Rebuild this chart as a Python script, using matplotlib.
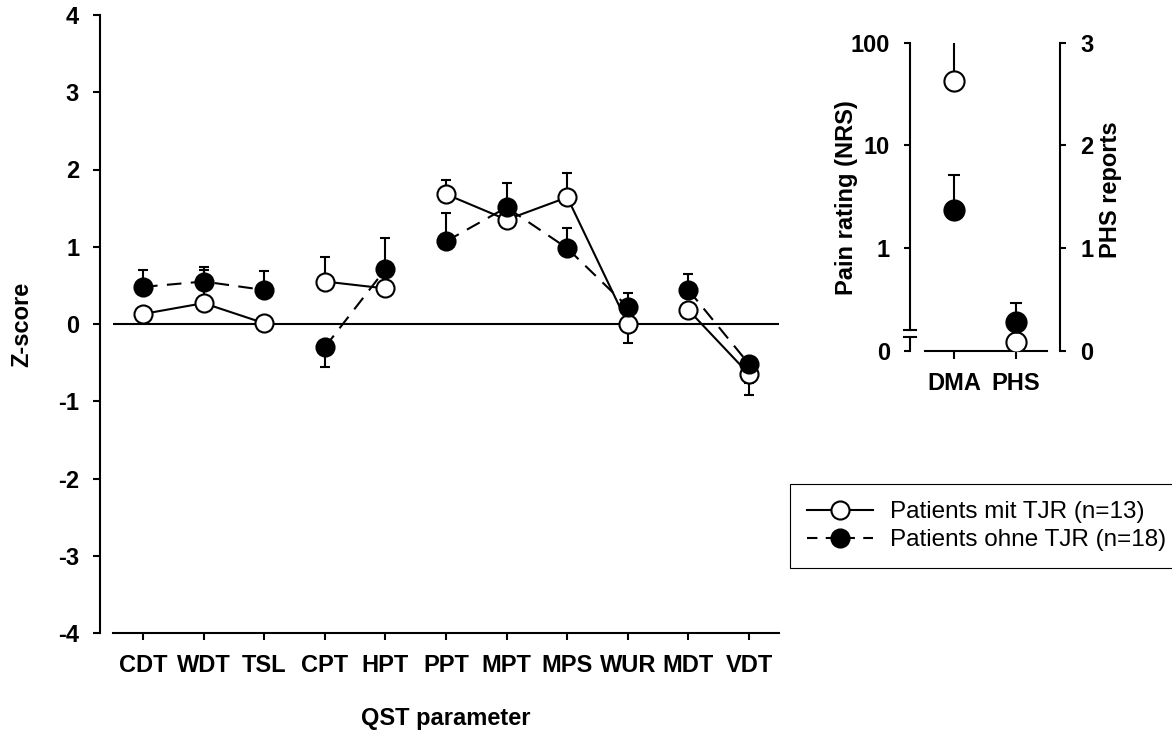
import matplotlib
matplotlib.use('Agg')
import matplotlib.pyplot as plt
import numpy as np
from matplotlib.lines import Line2D

plt.rcParams['font.family'] = ['Liberation Sans', 'DejaVu Sans']
plt.rcParams['font.weight'] = 'bold'
plt.rcParams['axes.unicode_minus'] = False

# QST z-scores
params = ['CDT', 'WDT', 'TSL', 'CPT', 'HPT', 'PPT', 'MPT', 'MPS', 'WUR', 'MDT', 'VDT']
# groups of parameters joined by a line
segments = [[0, 1, 2], [3, 4], [5, 6, 7, 8], [9, 10]]

tjr_mean = [0.13, 0.27, 0.01, 0.55, 0.46, 1.68, 1.35, 1.64, 0.00, 0.18, -0.65]
tjr_err_up = [0.0, 0.43, 0.0, 0.32, 0.0, 0.18, 0.0, 0.31, 0.0, 0.0, 0.0]
tjr_err_down = [0.0, 0.0, 0.0, 0.0, 0.0, 0.0, 0.0, 0.0, 0.25, 0.0, 0.27]

ohne_mean = [0.48, 0.55, 0.44, -0.30, 0.71, 1.07, 1.51, 0.98, 0.22, 0.44, -0.52]
ohne_err_up = [0.22, 0.19, 0.25, 0.0, 0.40, 0.37, 0.32, 0.26, 0.18, 0.21, 0.0]
ohne_err_down = [0.0, 0.0, 0.0, 0.26, 0.0, 0.0, 0.0, 0.0, 0.0, 0.0, 0.24]

# inset: DMA pain rating (NRS, log axis) and PHS reports (right axis)
inset_cats = ['DMA', 'PHS']
dma_tjr, dma_tjr_top = 42.7, 130.0
dma_ohne, dma_ohne_top = 2.38, 5.2
phs_tjr = 0.09
phs_ohne, phs_ohne_top = 0.285, 0.47

labels = ['Patients mit TJR (n=13)', 'Patients ohne TJR (n=18)']

W, H = 1172, 733
FS = 17
fig = plt.figure(figsize=(W / 100, H / 100), dpi=100)

open_style = dict(marker='o', ms=13, mfc='white', mec='black', mew=1.5)
fill_style = dict(marker='o', ms=13, mfc='black', mec='black', mew=1.5)
dash = (0, (7, 4.5))

# ---- main panel
ax = fig.add_axes([100 / W, 1 - 633 / H, 680 / W, 618 / H])
x = np.arange(len(params))
tjr_mean = np.array(tjr_mean)
ohne_mean = np.array(ohne_mean)

ax.hlines(0, -0.495, 10.5, color='black', lw=1.5, zorder=1)

ax.errorbar(x, tjr_mean, yerr=[tjr_err_down, tjr_err_up], fmt='none', ecolor='black',
            elinewidth=1.5, capsize=3.6, capthick=1.5, zorder=2)
ax.errorbar(x, ohne_mean, yerr=[ohne_err_down, ohne_err_up], fmt='none', ecolor='black',
            elinewidth=1.5, capsize=3.6, capthick=1.5, zorder=2)

for seg in segments:
    ax.plot(x[seg], tjr_mean[seg], color='black', lw=1.5, zorder=3)
    ax.plot(x[seg], ohne_mean[seg], color='black', lw=1.5, linestyle=dash, zorder=3)

ax.plot(x, tjr_mean, linestyle='none', zorder=4, **open_style)
ax.plot(x, ohne_mean, linestyle='none', zorder=5, **fill_style)

ax.set_xlim(-0.71, 10.51)
ax.set_ylim(-4, 4)
ax.set_xticks(x)
ax.set_xticklabels(params)
ax.set_yticks(range(-4, 5))
for s in ['top', 'right']:
    ax.spines[s].set_visible(False)
for s in ['left', 'bottom']:
    ax.spines[s].set_linewidth(1.5)
ax.spines['bottom'].set_bounds(-0.495, 10.5)
ax.tick_params(axis='x', direction='out', length=5, width=1.5, labelsize=FS, pad=10)
ax.tick_params(axis='y', direction='out', length=5, width=1.5, labelsize=FS, pad=10)

fig.text(22 / W, 1 - 324 / H, 'Z-score', rotation=90, ha='center', va='center', fontsize=FS)
fig.text(446 / W, 1 - 725 / H, 'QST parameter', ha='center', va='baseline', fontsize=FS)

# ---- inset
def fwd(v):
    v = np.asarray(v, dtype=float)
    return np.where(v < 1, v, np.log10(np.maximum(v, 1)) + 1)

def inv(u):
    u = np.asarray(u, dtype=float)
    return np.where(u < 1, u, 10 ** (np.minimum(u, 10) - 1))

ax2 = fig.add_axes([910 / W, 1 - 351 / H, 150 / W, 308.3 / H])
ax2.set_yscale('function', functions=(fwd, inv))
ax2.set_ylim(0, 100)
ax2.set_xlim(-0.71, 1.71)
ax2.errorbar([0], [dma_tjr], yerr=[[0], [dma_tjr_top - dma_tjr]], fmt='none', ecolor='black',
             elinewidth=1.5, capsize=4.3, capthick=1.5, zorder=2)
ax2.errorbar([0], [dma_ohne], yerr=[[0], [dma_ohne_top - dma_ohne]], fmt='none', ecolor='black',
             elinewidth=1.5, capsize=4.3, capthick=1.5, zorder=2)
ax2.plot([0], [dma_tjr], zorder=4, **dict(open_style, ms=14.5))
ax2.plot([0], [dma_ohne], zorder=4, **dict(fill_style, ms=14.5))
ax2.set_yticks([0, 1, 10, 100])
ax2.set_yticklabels(['0', '1', '10', '100'])
ax2.yaxis.set_minor_locator(matplotlib.ticker.NullLocator())
ax2.set_xticks([0, 1])
ax2.set_xticklabels(inset_cats)
for s in ['top', 'right']:
    ax2.spines[s].set_visible(False)
for s in ['left', 'bottom']:
    ax2.spines[s].set_linewidth(1.5)
ax2.spines['bottom'].set_bounds(-0.47, 1.5)
ax2.spines['left'].set_bounds(0.2, 100)
# axis break
ax2.plot([0, 0], [0, 0.045], transform=ax2.transAxes, color='black', lw=1.5, clip_on=False)
for yb in [0.045, 0.068]:
    ax2.plot([-0.04, 0.04], [yb, yb], transform=ax2.transAxes, color='black', lw=1.5,
             clip_on=False)
ax2.tick_params(axis='x', direction='out', length=6, width=1.5, labelsize=FS, pad=9)
ax2.tick_params(axis='y', direction='out', length=4.5, width=1.5, labelsize=FS, pad=10)

ax3 = ax2.twinx()
ax3.set_ylim(0, 3)
ax3.errorbar([1], [phs_ohne], yerr=[[0], [phs_ohne_top - phs_ohne]], fmt='none', ecolor='black',
             elinewidth=1.5, capsize=4.3, capthick=1.5, zorder=2)
ax3.plot([1], [phs_tjr], zorder=4, **dict(open_style, ms=14.5))
ax3.plot([1], [phs_ohne], zorder=4, **dict(fill_style, ms=14.5))
ax3.set_yticks([0, 1, 2, 3])
for s in ['top', 'left', 'bottom']:
    ax3.spines[s].set_visible(False)
ax3.spines['right'].set_linewidth(1.5)
ax3.tick_params(axis='y', direction='out', length=4.5, width=1.5, labelsize=FS, pad=10)

fig.text(846 / W, 1 - 198 / H, 'Pain rating (NRS)', rotation=90, ha='center', va='center',
         fontsize=FS)
fig.text(1111 / W, 1 - 190 / H, 'PHS reports', rotation=90, ha='center', va='center',
         fontsize=FS)

# ---- legend
handles = [Line2D([], [], color='black', lw=1.5, **open_style),
           Line2D([], [], color='black', lw=1.5, linestyle=(0, (5, 4)), **fill_style)]
leg = fig.legend(handles, labels, loc='upper left', bbox_to_anchor=(790 / W, 1 - 484 / H),
                 bbox_transform=fig.transFigure, frameon=True, fancybox=False,
                 edgecolor='black', framealpha=1, borderpad=0.7, handlelength=2.7,
                 handletextpad=0.7, labelspacing=0.25, borderaxespad=0,
                 prop={'weight': 'normal', 'size': 17.5})
leg.get_frame().set_linewidth(0.8)

fig.savefig('out.png', dpi=100)
